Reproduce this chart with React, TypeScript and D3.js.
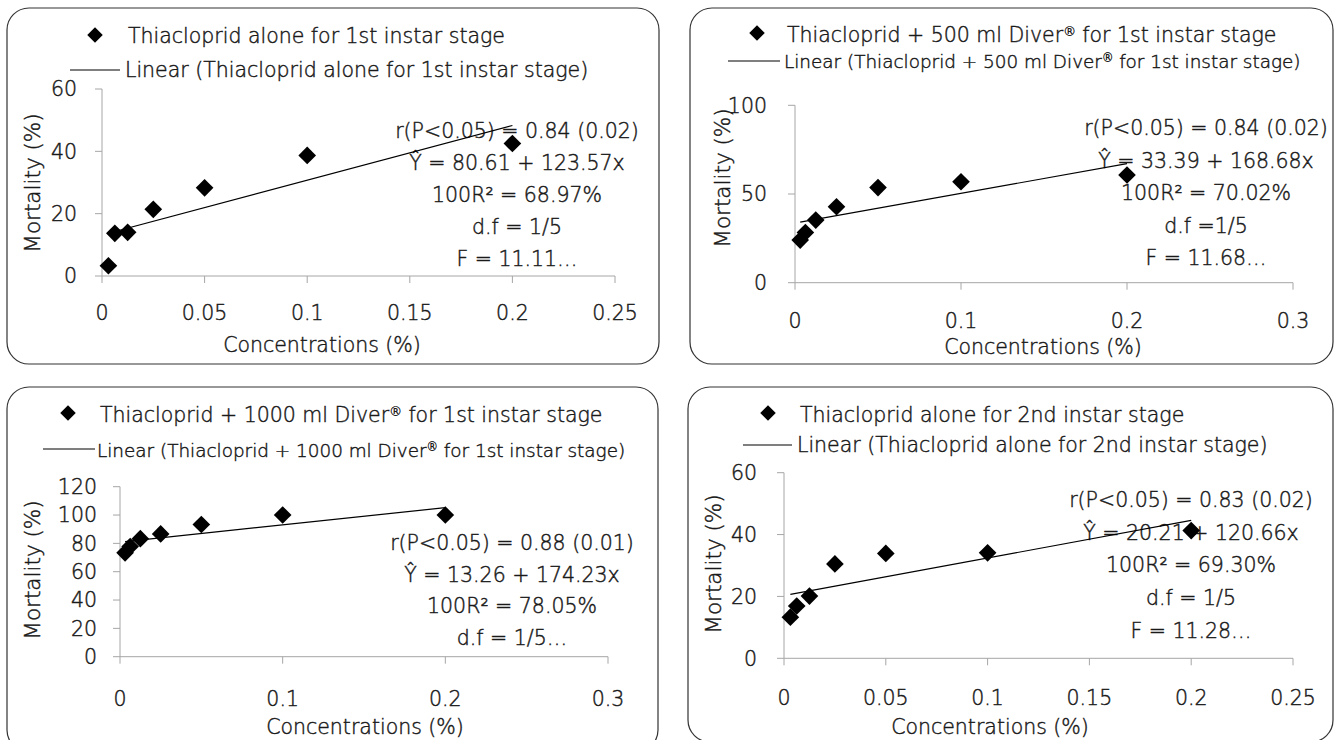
import * as d3 from 'd3';

// concentrations (%) used in all four bioassays
const concentrations = [0.003125, 0.00625, 0.0125, 0.025, 0.05, 0.1, 0.2];

// mortality (%)
const mortalityAlone1st = [3.3, 13.7, 14.0, 21.4, 28.3, 38.7, 42.5];
const mortality500Diver1st = [24.0, 28.3, 35.3, 42.8, 53.6, 56.9, 60.7];
const mortality1000Diver1st = [73.3, 77.8, 83.3, 86.7, 93.3, 100, 100];
const mortalityAlone2nd = [13.3, 16.9, 20.1, 30.5, 33.9, 34.1, 41.3];

const seriesNames = [
  'Thiacloprid alone for 1st instar stage',
  'Thiacloprid + 500 ml Diver® for 1st instar stage',
  'Thiacloprid + 1000 ml Diver® for 1st instar stage',
  'Thiacloprid alone for 2nd instar stage',
];

const statsAlone1st = ['r(P<0.05) = 0.84 (0.02)', 'Ŷ = 80.61 + 123.57x', '100R² = 68.97%', 'd.f = 1/5', 'F = 11.11…'];
const stats500Diver1st = ['r(P<0.05) = 0.84 (0.02)', 'Ŷ = 33.39 + 168.68x', '100R² = 70.02%', 'd.f =1/5', 'F = 11.68…'];
const stats1000Diver1st = ['r(P<0.05) = 0.88 (0.01)', 'Ŷ = 13.26 + 174.23x', '100R² = 78.05%', 'd.f = 1/5…'];
const statsAlone2nd = ['r(P<0.05) = 0.83 (0.02)', 'Ŷ = 20.21 + 120.66x', '100R² = 69.30%', 'd.f = 1/5', 'F = 11.28…'];

const xTicksQuarter = [0, 0.05, 0.1, 0.15, 0.2, 0.25];
const xTicksTenth = [0, 0.1, 0.2, 0.3];
const yTicks60 = [0, 20, 40, 60];
const yTicks100 = [0, 50, 100];
const yTicks120 = [0, 20, 40, 60, 80, 100, 120];

const FONT = '"DejaVu Sans", sans-serif';
const TEXT = '#1a1a1a';
const AXIS = '#a6a6a6';

// least squares line, same as the spreadsheet "Linear" trendline
function fitLine(xs: number[], ys: number[]) {
  const mx = d3.mean(xs) as number;
  const my = d3.mean(ys) as number;
  let sxy = 0;
  let sxx = 0;
  xs.forEach((v, i) => {
    sxy += (v - mx) * (ys[i] - my);
    sxx += (v - mx) * (v - mx);
  });
  const b = sxy / sxx;
  return { a: my - b * mx, b };
}

function Label({ text, x, y, size }: { text: string; x: number; y: number; size: number }) {
  const parts = text.split('®');
  return (
    <text x={x} y={y} fontSize={size}>
      {parts.map((p, i) => (
        <tspan key={i}>
          {i > 0 ? <tspan dy={6}>{p}</tspan> : p}
          {i < parts.length - 1 && <tspan dy={-6} fontSize={size * 0.62}>®</tspan>}
        </tspan>
      ))}
    </text>
  );
}

const panels = [
  {
    name: seriesNames[0], values: mortalityAlone1st, stats: statsAlone1st,
    box: [7, 8, 652, 356], plot: [102, 615, 89, 276], xDomain: [0, 0.25], yDomain: [0, 60],
    xTicks: xTicksQuarter, yTicks: yTicks60,
    yLabelX: 77, xLabelY: 320, yTitle: [32, 183], xTitle: [322, 352],
    legend: { mx: 95, my: 35, tx: 128, ty: 43, l0: 70, l1: 120, ly: 70, t2y: 77, small: 20.5 },
    stat: { cx: 517, y0: 138, dy: 32 },
  },
  {
    name: seriesNames[1], values: mortality500Diver1st, stats: stats500Diver1st,
    box: [690, 8, 643, 356], plot: [795, 1293, 105.3, 282.7], xDomain: [0, 0.3], yDomain: [0, 100],
    xTicks: xTicksTenth, yTicks: yTicks100,
    yLabelX: 767, xLabelY: 328, yTitle: [722, 178], xTitle: [1043, 354],
    legend: { mx: 757, my: 33, tx: 787, ty: 42, l0: 728, l1: 780, ly: 61, t2y: 68, small: 18.4 },
    stat: { cx: 1206, y0: 135, dy: 32.5 },
  },
  {
    name: seriesNames[2], values: mortality1000Diver1st, stats: stats1000Diver1st,
    box: [7, 387, 651, 365], plot: [120, 608, 486.7, 656.7], xDomain: [0, 0.3], yDomain: [0, 120],
    xTicks: xTicksTenth, yTicks: yTicks120,
    yLabelX: 97, xLabelY: 706, yTitle: [32, 570], xTitle: [365, 734],
    legend: { mx: 68, my: 413, tx: 100, ty: 422, l0: 43, l1: 95, ly: 449, t2y: 457, small: 18.4 },
    stat: { cx: 512, y0: 550, dy: 31.7 },
  },
  {
    name: seriesNames[3], values: mortalityAlone2nd, stats: statsAlone2nd,
    box: [688, 387, 645, 355], plot: [784, 1293, 472.7, 658.3], xDomain: [0, 0.25], yDomain: [0, 60],
    xTicks: xTicksQuarter, yTicks: yTicks60,
    yLabelX: 757, xLabelY: 705, yTitle: [713, 564], xTitle: [990, 734],
    legend: { mx: 768, my: 413, tx: 800, ty: 422, l0: 743, l1: 792, ly: 445, t2y: 452, small: 20.5 },
    stat: { cx: 1191, y0: 507, dy: 32.7 },
  },
];

const bigDiamond = d3.symbol(d3.symbolSquare, 156)() as string;
const legendDiamond = d3.symbol(d3.symbolSquare, 120)() as string;

function Panel({ p }: { p: (typeof panels)[number] }) {
  const [bx, by, bw, bh] = p.box;
  const [left, right, top, bottom] = p.plot;
  const x = d3.scaleLinear().domain(p.xDomain).range([left, right]);
  const y = d3.scaleLinear().domain(p.yDomain).range([bottom, top]);
  const fit = fitLine(concentrations, p.values);
  const x0 = d3.min(concentrations) as number;
  const x1 = d3.max(concentrations) as number;
  const trend = d3.line<number>().x(d => x(d)).y(d => y(fit.a + fit.b * d))([x0, x1]) as string;
  const lg = p.legend;
  const size = 20.5;

  return (
    <g>
      <rect x={bx} y={by} width={bw} height={bh} rx={22} fill="#fff" stroke="#333" strokeWidth={1.2} />

      {/* axes */}
      <g stroke={AXIS}>
        <line x1={left} x2={left} y1={top} y2={bottom} />
        <line x1={left} x2={right} y1={bottom} y2={bottom} />
        {p.yTicks.map(t => <line key={t} x1={left - 7} x2={left} y1={y(t)} y2={y(t)} />)}
        {p.xTicks.map(t => <line key={t} x1={x(t)} x2={x(t)} y1={bottom} y2={bottom + 7} />)}
      </g>

      <g fill={TEXT} stroke={TEXT} strokeWidth={0.45}>
        {p.yTicks.map(t => (
          <text key={'y' + t} x={p.yLabelX} y={y(t)} dy="0.36em" textAnchor="end" fontSize={size}>{t}</text>
        ))}
        {p.xTicks.map(t => (
          <text key={'x' + t} x={x(t)} y={p.xLabelY} textAnchor="middle" fontSize={size}>{String(t)}</text>
        ))}
        <text transform={`translate(${p.yTitle[0]},${p.yTitle[1]}) rotate(-90)`} dy="0.36em" textAnchor="middle" fontSize={21.5}>
          Mortality (%)
        </text>
        <text x={p.xTitle[0]} y={p.xTitle[1]} textAnchor="middle" fontSize={size}>
          Concentrations (%)
        </text>

        {/* legend text */}
        <Label text={p.name} x={lg.tx} y={lg.ty} size={size} />
        <Label text={`Linear (${p.name})`} x={lg.tx - 3} y={lg.t2y} size={lg.small} />

        {/* regression statistics */}
        {p.stats.map((s, i) => (
          <text key={i} x={p.stat.cx} y={p.stat.y0 + i * p.stat.dy} textAnchor="middle" fontSize={size}>
            {s}
          </text>
        ))}
      </g>

      {/* points and trendline */}
      {p.values.map((v, i) => (
        <path key={i} d={bigDiamond} transform={`translate(${x(concentrations[i])},${y(v)}) rotate(45)`} fill="#000" />
      ))}
      <path d={trend} fill="none" stroke="#000" strokeWidth={1.2} />

      {/* legend marks */}
      <path d={legendDiamond} transform={`translate(${lg.mx},${lg.my}) rotate(45)`} fill="#000" />
      <line x1={lg.l0} x2={lg.l1} y1={lg.ly} y2={lg.ly} stroke="#000" strokeWidth={1.2} />
    </g>
  );
}

export default function App() {
  return (
    <svg
      width={1339}
      height={740}
      style={{ position: 'absolute', left: 0, top: 0, background: '#fff' }}
      fontFamily={FONT}
      fontWeight={300}
    >
      {panels.map((p, i) => (
        <Panel key={i} p={p} />
      ))}
    </svg>
  );
}
